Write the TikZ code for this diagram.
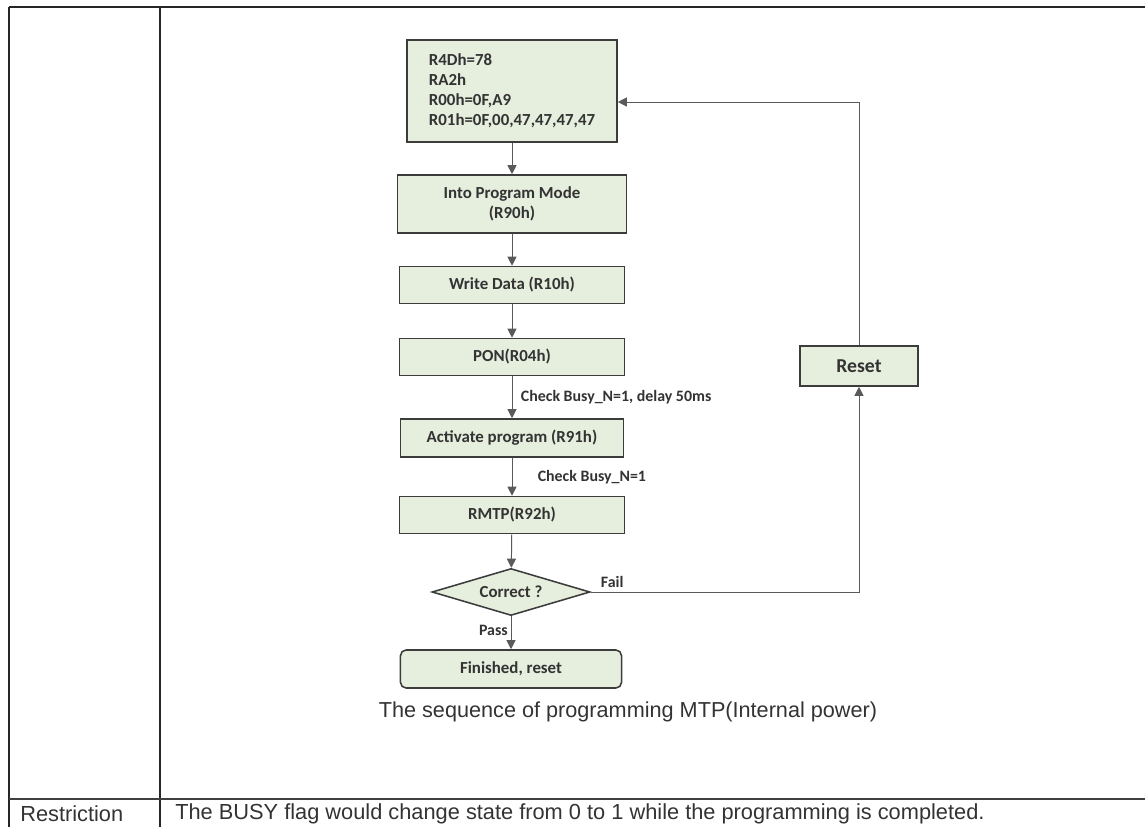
\documentclass[tikz,border=0pt]{standalone}
\usepackage{fontspec}
\setmainfont{Liberation Sans}
\newfontfamily\boxfont{Carlito}
\usepackage{xcolor}
\usepackage{tikz}
\usetikzlibrary{arrows.meta}
\usetikzlibrary{shapes.geometric}
\definecolor{boxgreen}{HTML}{E6EEDD}
\definecolor{boxline}{HTML}{3C3C3C}
\definecolor{flowline}{HTML}{5A5A5A}

\begin{document}
\begin{tikzpicture}[x=0.025cm,y=-0.025cm,
    stepbox/.style={draw=boxline,line width=1.1pt,fill=boxgreen,inner sep=2pt,
      font=\boxfont\bfseries\fontsize{12}{14.2}\selectfont,text=black!80,align=center},
    flow/.style={draw=flowline,line width=0.7pt,-{Triangle[length=6.5pt,width=6.5pt]}},
    note/.style={font=\boxfont\bfseries\fontsize{11.3}{13}\selectfont,text=black!80,inner sep=2pt}]
    \useasboundingbox (0,0) rectangle (1145,827);
    % table around the figure
    \draw[line width=1.4pt,black!85] (9,7) -- (1145,7);
    \draw[line width=1.2pt,black!85] (9,7) -- (9,827);
    \draw[line width=1.2pt,black!85] (160,7) -- (160,827);
    \draw[line width=2pt,black!75] (9,799) -- (1145,799);
    \node[anchor=west,inner sep=0pt,font=\fontsize{15.5}{17}\selectfont,text=black!80] (rowname) at (20,814) {Restriction};
    \node[anchor=west,inner sep=0pt,font=\fontsize{15.5}{17}\selectfont,text=black!80] (rowtext) at (175,814) {The BUSY flag would change state from 0 to 1 while the programming is completed.};
    % flow
    \node[stepbox,align=left,minimum width=5.25cm,minimum height=2.55cm] (init) at (512,91)
      {R4Dh=78\\RA2h\\R00h=0F,A9\\R01h=0F,00,47,47,47,47};
    \node[stepbox,minimum width=5.725cm,minimum height=1.45cm] (prog) at (512,204) {Into Program Mode\\(R90h)};
    \node[stepbox,minimum width=5.625cm,minimum height=0.925cm] (write) at (512,285) {Write Data (R10h)};
    \node[stepbox,minimum width=5.625cm,minimum height=0.925cm] (pon) at (512,357) {PON(R04h)};
    \node[stepbox,minimum width=5.575cm,minimum height=0.95cm] (act) at (512,438) {Activate program (R91h)};
    \node[stepbox,minimum width=5.625cm,minimum height=0.925cm] (rmtp) at (512,515) {RMTP(R92h)};
    \node[stepbox,diamond,aspect=3.36,inner sep=0pt,minimum width=3.95cm,minimum height=1.175cm] (check) at (511,592) {Correct ?};
    \node[stepbox,rounded corners=4pt,minimum width=5.525cm,minimum height=0.95cm] (done) at (511,669) {Finished, reset};
    \node[stepbox,font=\boxfont\bfseries\fontsize{14}{16}\selectfont,minimum width=2.95cm,minimum height=1cm] (reset) at (859,366) {Reset};
    \node[font=\fontsize{15.4}{17}\selectfont,text=black!80] (caption) at (628,712) {The sequence of programming MTP(Internal power)};
    \draw[flow] (init) -- (prog);
    \draw[flow] (prog) -- (write);
    \draw[flow] (write) -- (pon);
    \draw[flow] (pon) -- node[note,right,xshift=4pt]{Check Busy\_N=1, delay 50ms} (act);
    \draw[flow] (act) -- node[note,right,xshift=16pt]{Check Busy\_N=1} (rmtp);
    \draw[flow] (rmtp) -- (check);
    \draw[flow] (check) -- node[note,left,yshift=2pt]{Pass} (done);
    \draw[flow] (check.east) -| node[note,above,pos=0.04,yshift=1pt]{Fail} (reset.south);
    \draw[flow] (reset.north) |- ([yshift=-0.275cm]init.east);
\end{tikzpicture}
\end{document}
